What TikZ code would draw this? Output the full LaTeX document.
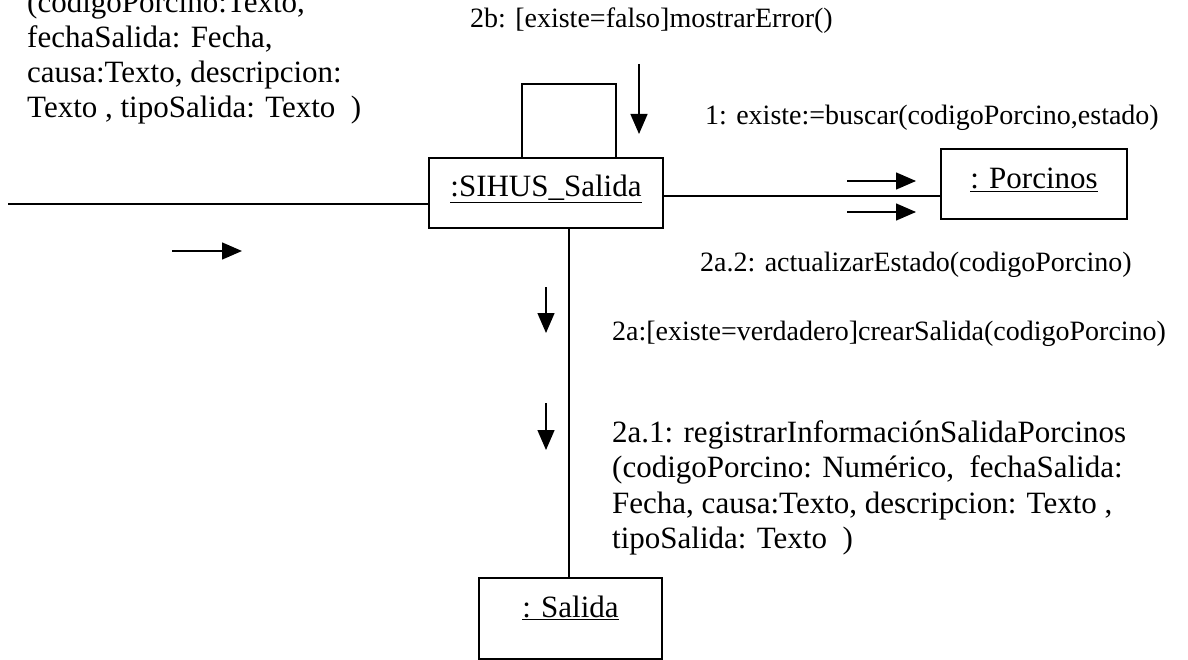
\documentclass[tikz,border=0pt]{standalone}
\usepackage{fontspec}
\setmainfont{Liberation Serif}
\usetikzlibrary{arrows.meta}
\begin{document}
\begin{tikzpicture}[x=1pt,y=-1pt,
  objbox/.style={draw,line width=1.4pt,rectangle,inner sep=0pt,font=\fontsize{31}{35}\selectfont},
  lbl/.style={anchor=base west,inner sep=0pt,font=\fontsize{28}{32}\selectfont},
  blk/.style={anchor=base west,inner sep=0pt,font=\fontsize{31}{35}\selectfont},
  conn/.style={line width=1.4pt},
  msg/.style={line width=1.4pt,-{Triangle[length=20pt,width=17pt]}}]
\useasboundingbox (0,0) rectangle (1188,660);
% objects
\node[objbox,minimum width=234pt,minimum height=70pt,text height=18pt,text depth=10pt] (sihus) at (546,193) {\underline{:SIHUS\_Salida}};
\node[objbox,minimum width=186pt,minimum height=70pt,text height=20pt,text depth=10pt] (porcinos) at (1034,184) {\underline{: Porcinos}};
\node[objbox,minimum width=183pt,minimum height=81pt,text height=12pt,text depth=15pt] (salida) at (570.5,618.5) {\underline{: Salida}};
% connectors
\coordinate (lstart) at (8,204);
\draw[conn] (lstart) -- (lstart -| sihus.west);
\coordinate (rline) at (800,196);
\draw[conn] (rline -| sihus.east) -- (rline -| porcinos.west);
\coordinate (vl) at (569,400);
\draw[conn] (vl |- sihus.south) -- (vl |- salida.north);
\coordinate (lp1) at (522,84);
\coordinate (lp2) at (616,84);
\draw[conn] (lp1 |- sihus.north) -- (lp1) -- (lp2) -- (lp2 |- sihus.north);
% message arrows
\coordinate (m2bs) at (639,64); \coordinate (m2be) at (639,134);
\draw[msg] (m2bs) -- (m2be);
\coordinate (m1s) at (847,181); \coordinate (m1e) at (916,181);
\draw[msg] (m1s) -- (m1e);
\coordinate (m22s) at (847,212); \coordinate (m22e) at (916,212);
\draw[msg] (m22s) -- (m22e);
\coordinate (m2as) at (546,287); \coordinate (m2ae) at (546,333);
\draw[msg] (m2as) -- (m2ae);
\coordinate (m21s) at (546,403); \coordinate (m21e) at (546,450);
\draw[msg] (m21s) -- (m21e);
\coordinate (mins) at (172,251); \coordinate (mine) at (242,251);
\draw[msg] (mins) -- (mine);
% labels
\node[blk] (in1) at (27,13) {(codigoPorcino:Texto,};
\node[blk] (in2) at (27,48) {fechaSalida: Fecha,};
\node[blk] (in3) at (27,83) {causa:Texto, descripcion:};
\node[blk] (in4) at (27,118) {Texto , tipoSalida: Texto\ \ )};
\node[lbl] (l2b) at (470,28) {2b: [existe=falso]mostrarError()};
\node[lbl] (l1) at (705,125) {1: existe:=buscar(codigoPorcino,estado)};
\node[lbl] (l2a2) at (700,272) {2a.2: actualizarEstado(codigoPorcino)};
\node[lbl] (l2a) at (612,340) {2a:[existe=verdadero]crearSalida(codigoPorcino)};
\node[blk] (r1) at (612,442) {2a.1: registrarInformaciónSalidaPorcinos};
\node[blk] (r2) at (612,477) {(codigoPorcino: Numérico,\ \ fechaSalida:};
\node[blk] (r3) at (612,513) {Fecha, causa:Texto, descripcion: Texto ,};
\node[blk] (r4) at (612,548) {tipoSalida: Texto\ \ )};
\end{tikzpicture}
\end{document}
